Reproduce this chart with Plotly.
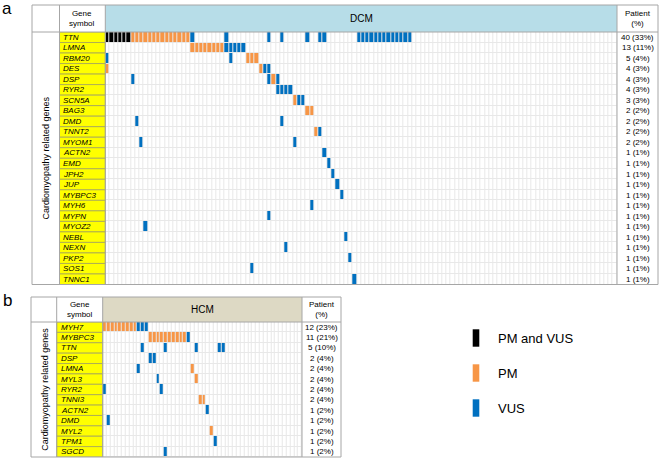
import plotly.graph_objects as go

W, H = 660, 459
FONT = "Arial, Liberation Sans, sans-serif"

# ---------------- Panel a : DCM ----------------
dcm_genes = ["TTN", "LMNA", "RBM20", "DES", "DSP", "RYR2", "SCN5A", "BAG3", "DMD",
             "TNNT2", "MYOM1", "ACTN2", "EMD", "JPH2", "JUP", "MYBPC3", "MYH6",
             "MYPN", "MYOZ2", "NEBL", "NEXN", "PKP2", "SOS1", "TNNC1"]
dcm_patient_labels = ["40 (33%)", "13 (11%)", "5 (4%)", "4 (3%)", "4 (3%)", "4 (3%)",
                      "3 (3%)", "2 (2%)", "2 (2%)", "2 (2%)", "2 (2%)", "1 (1%)",
                      "1 (1%)", "1 (1%)", "1 (1%)", "1 (1%)", "1 (1%)", "1 (1%)",
                      "1 (1%)", "1 (1%)", "1 (1%)", "1 (1%)", "1 (1%)", "1 (1%)"]
dcm_n_patients = 120
# patient (column) indices per gene for each variant class
dcm_pm_and_vus = [[0, 1, 2, 3, 4, 5], [], [], [], [], [], [], [], [], [], [], [],
                  [], [], [], [], [], [], [], [], [], [], [], []]
dcm_pm = [[6, 7, 8, 9, 10, 11, 12, 13, 14, 15, 16, 17, 18, 19],
          [20, 21, 22, 23, 24, 25, 26, 27],
          [33, 34, 35], [0, 36], [39], [], [44], [47, 48], [], [49], [], [],
          [], [], [], [], [], [], [], [], [], [], [], []]
dcm_vus = [[20, 28, 38, 41, 47, 50, 51, 59, 60, 61, 62, 63, 64, 65, 66, 67, 68, 69, 70, 71],
           [28, 29, 30, 31, 32],
           [0, 29], [37, 38], [6, 38, 40], [40, 41, 42, 43], [45, 46], [], [7, 41],
           [50], [8, 44], [51], [52], [53], [54], [55], [48], [38], [9], [56], [42],
           [57], [34], [58]]

# ---------------- Panel b : HCM ----------------
hcm_genes = ["MYH7", "MYBPC3", "TTN", "DSP", "LMNA", "MYL3", "RYR2", "TNNI3", "ACTN2",
             "DMD", "MYL2", "TPM1", "SGCD"]
hcm_patient_labels = ["12 (23%)", "11 (21%)", "5 (10%)", "2 (4%)", "2 (4%)", "2 (4%)",
                      "2 (4%)", "2 (4%)", "1 (2%)", "1 (2%)", "1 (2%)", "1 (2%)", "1 (2%)"]
hcm_n_patients = 52
hcm_pm = [[0, 1, 2, 3, 4, 5, 6, 7, 8],
          [12, 13, 14, 15, 16, 17, 18, 19, 20, 21],
          [], [], [23], [24], [], [25, 26], [], [], [28], [], []]
hcm_vus = [[9, 10, 11], [22], [10, 16, 24, 30, 31], [12, 13], [9], [14], [0, 15], [],
           [27], [1], [], [29], [16]]

legend_labels = ["PM and VUS", "PM", "VUS"]
COLORS = {"none": "#ffffff", "pmvus": "#000000", "pm": "#f79646", "vus": "#0070c0"}


def build_matrix(n_rows, n_cols, layers):
    z = [[0] * n_cols for _ in range(n_rows)]
    for code, rows in layers:
        for r, cols in enumerate(rows):
            for c in cols:
                z[r][c] = code
    return z


z_dcm = build_matrix(len(dcm_genes), dcm_n_patients,
                     [(1, dcm_pm_and_vus), (2, dcm_pm), (3, dcm_vus)])
z_hcm = build_matrix(len(hcm_genes), hcm_n_patients, [(2, hcm_pm), (3, hcm_vus)])

cscale = [[0, COLORS["none"]], [0.1667, COLORS["none"]],
          [0.1667, COLORS["pmvus"]], [0.5, COLORS["pmvus"]],
          [0.5, COLORS["pm"]], [0.8333, COLORS["pm"]],
          [0.8333, COLORS["vus"]], [1, COLORS["vus"]]]


def fx(px):
    return px / W


def fy(py):
    return 1 - py / H


# geometry (pixels)
A = dict(left=32, gene=59.5, grid_l=105.3, grid_r=617, right=658, top=5, head=32, bottom=284.5)
B = dict(left=31, gene=56.7, grid_l=102.7, grid_r=302, right=341, top=297, head=322, bottom=457)

fig = go.Figure()
fig.add_trace(go.Heatmap(z=z_dcm, x=list(range(dcm_n_patients)), y=list(range(len(dcm_genes))),
                         colorscale=cscale, zmin=0, zmax=3, showscale=False, xgap=1, ygap=1,
                         hoverinfo="skip", xaxis="x", yaxis="y"))
fig.add_trace(go.Heatmap(z=z_hcm, x=list(range(hcm_n_patients)), y=list(range(len(hcm_genes))),
                         colorscale=cscale, zmin=0, zmax=3, showscale=False, xgap=1, ygap=1,
                         hoverinfo="skip", xaxis="x2", yaxis="y2"))

ax_common = dict(showgrid=False, zeroline=False, showticklabels=False, ticks="", showline=False)
fig.update_layout(
    width=W, height=H, margin=dict(l=0, r=0, t=0, b=0),
    paper_bgcolor="white", plot_bgcolor="#e8e8e8", showlegend=False,
    font=dict(family=FONT, color="#000"),
    xaxis=dict(domain=[fx(A["grid_l"]), fx(A["grid_r"])], range=[-0.5, dcm_n_patients - 0.5], **ax_common),
    yaxis=dict(domain=[fy(A["bottom"]), fy(A["head"])], range=[len(dcm_genes) - 0.5, -0.5], **ax_common),
    xaxis2=dict(domain=[fx(B["grid_l"]), fx(B["grid_r"])], range=[-0.5, hcm_n_patients - 0.5],
                anchor="y2", **ax_common),
    yaxis2=dict(domain=[fy(B["bottom"]), fy(B["head"])], range=[len(hcm_genes) - 0.5, -0.5],
                anchor="x2", **ax_common),
)

shapes = []
annotations = []
LINE = "#a6a6a6"


def prect(x0, y0, x1, y1, fill=None, line=LINE, width=1):
    shapes.append(dict(type="rect", xref="paper", yref="paper", x0=fx(x0), x1=fx(x1),
                       y0=fy(y0), y1=fy(y1), fillcolor=fill or "rgba(0,0,0,0)",
                       line=dict(color=line, width=width), layer="above"))


def pline(x0, y0, x1, y1, color=LINE, width=1):
    shapes.append(dict(type="line", xref="paper", yref="paper", x0=fx(x0), x1=fx(x1),
                       y0=fy(y0), y1=fy(y1), line=dict(color=color, width=width)))


def text(x, y, s, size=8, xanchor="center", angle=0, italic=False, xref="paper", yref="paper"):
    annotations.append(dict(x=fx(x) if xref == "paper" else x, y=fy(y) if yref == "paper" else y,
                            xref=xref, yref=yref, text=s, showarrow=False, xanchor=xanchor,
                            yanchor="middle", textangle=angle,
                            font=dict(size=size, family=FONT, color="#000",
                                      style="italic" if italic else "normal")))


def panel(g, genes, labels, yref, head_fill, title, letter, letter_y):
    # header fill
    prect(g["grid_l"], g["top"], g["grid_r"], g["head"], fill=head_fill, line=head_fill, width=0)
    # yellow gene cells, aligned to rows of the axis
    for i, gname in enumerate(genes):
        shapes.append(dict(type="rect", xref="paper", yref=yref, x0=fx(g["gene"]), x1=fx(g["grid_l"]),
                           y0=i - 0.5, y1=i + 0.5, fillcolor="#ffff00",
                           line=dict(color="#a3a35c", width=0.8), layer="above"))
        text(g["gene"] + 1.8, i, gname, size=8, xanchor="left", italic=True, yref=yref)
        text((g["grid_r"] + g["right"]) / 2, i, labels[i], size=8, yref=yref)
    # frame
    prect(g["left"], g["top"], g["right"], g["bottom"])
    pline(g["left"], g["head"], g["right"], g["head"])
    for xv in (g["gene"], g["grid_l"], g["grid_r"]):
        pline(xv, g["top"], xv, g["bottom"])
    hy = (g["top"] + g["head"]) / 2
    text((g["gene"] + g["grid_l"]) / 2, hy, "Gene<br>symbol", size=8)
    text((g["grid_l"] + g["grid_r"]) / 2, hy, title, size=10)
    text((g["grid_r"] + g["right"]) / 2, hy, "Patient<br>(%)", size=8)
    text((g["left"] + g["gene"]) / 2 + 0.5, (g["head"] + g["bottom"]) / 2,
         "Cardiomyopathy related genes", size=9, angle=-90)
    text(7, letter_y, letter, size=17)


panel(A, dcm_genes, dcm_patient_labels, "y", "#b7dde8", "DCM", "a", 8)
panel(B, hcm_genes, hcm_patient_labels, "y2", "#ddd9c4", "HCM", "b", 300)

# legend
legend_colors = [COLORS["pmvus"], COLORS["pm"], COLORS["vus"]]
legend_y = [338, 373, 408]
for lab, col, ly in zip(legend_labels, legend_colors, legend_y):
    prect(472.7, ly - 8.7, 479.3, ly + 8.7, fill=col, line=col, width=0)
    text(496, ly, lab, size=13, xanchor="left")

fig.update_layout(shapes=shapes, annotations=annotations)
fig.write_html("out.html", config={"displayModeBar": False, "staticPlot": True},
               post_script="document.body.style.margin='0';document.body.style.overflow='hidden';")
